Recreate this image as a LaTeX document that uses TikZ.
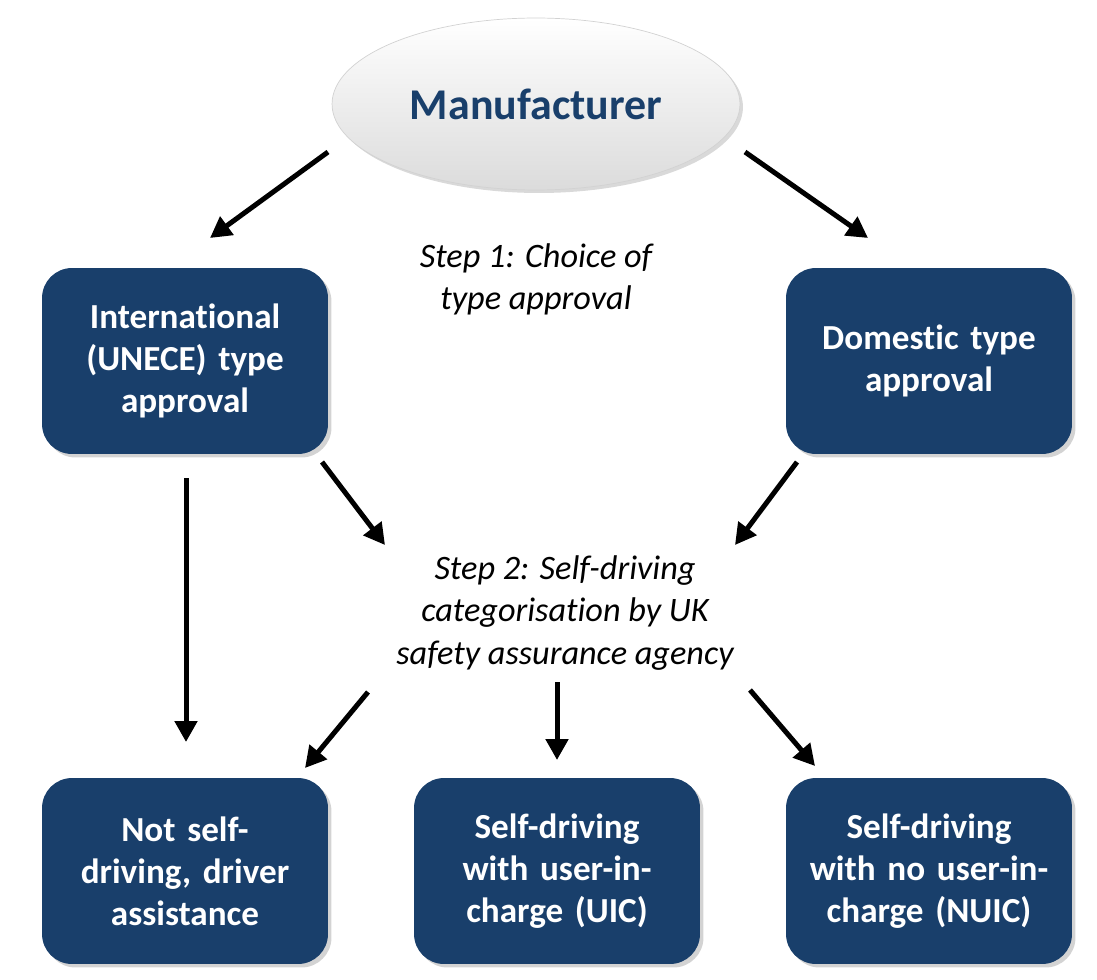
\documentclass[tikz,border=0pt]{standalone}
\usepackage{fontspec}
\setmainfont{Carlito}[Ligatures=NoCommon]
\usetikzlibrary{arrows.meta,shapes.geometric,shadows}

\definecolor{navy}{RGB}{25,63,107}

\tikzset{
  box/.style={fill=navy, rounded corners=0.6cm, minimum width=5.72cm,
    minimum height=3.72cm, text width=5.3cm, align=center, text=white,
    font=\bfseries\fontsize{20}{24}\selectfont,
    drop shadow={shadow xshift=0.07cm, shadow yshift=-0.07cm, opacity=0.35}},
  oval/.style={ellipse, minimum width=8.16cm, minimum height=3.44cm,
    top color=white, bottom color=gray!28, draw=gray!35, thin,
    text=navy, font=\bfseries\fontsize{25}{28}\selectfont,
    drop shadow={shadow xshift=0.06cm, shadow yshift=-0.06cm, opacity=0.3}},
  steptext/.style={align=center, font=\itshape\fontsize{19.5}{24}\selectfont},
  arr/.style={line width=0.1cm, -{Triangle[length=0.42cm, width=0.44cm]}}
}

\begin{document}
\begin{tikzpicture}[x=0.02cm, y=-0.02cm]
  \useasboundingbox (0,0) rectangle (1097,979);

  % nodes
  \node[oval] (manuf) at (536,104) {Manufacturer};
  \node[box] (intl) at (185,361) {International\\(UNECE) type\\approval};
  \node[box] (dom) at (929,361) {Domestic type\\approval};
  \node[box] (notsd) at (185,871) {Not self-\\driving, driver\\assistance};
  \node[box] (uic) at (557,871) {Self-driving\\with user-in-\\charge (UIC)};
  \node[box] (nuic) at (929,871) {Self-driving\\with no user-in-\\charge (NUIC)};

  \node[steptext] (step1) at (536,279) {Step 1: Choice of\\type approval};
  \node[steptext] (step2) at (565,613) {Step 2: Self-driving\\categorisation by UK\\safety assurance agency};

  % arrow ends
  \coordinate (m1) at (328,152);  \coordinate (i1) at (210,238);
  \coordinate (m2) at (745,152);  \coordinate (d1) at (868,238);
  \coordinate (i2) at (186,478);  \coordinate (n1) at (186,742);
  \coordinate (i3) at (322,462);  \coordinate (s1) at (385,545);
  \coordinate (d2) at (797,462);  \coordinate (s2) at (735,545);
  \coordinate (s3) at (368,692);  \coordinate (n2) at (305,768);
  \coordinate (s4) at (557,682);  \coordinate (u1) at (557,760);
  \coordinate (s5) at (750,690);  \coordinate (u2) at (815,766);

  % arrows
  \draw[arr] (m1) -- (i1);
  \draw[arr] (m2) -- (d1);
  \draw[arr] (i2) -- (n1);
  \draw[arr] (i3) -- (s1);
  \draw[arr] (d2) -- (s2);
  \draw[arr] (s3) -- (n2);
  \draw[arr] (s4) -- (u1);
  \draw[arr] (s5) -- (u2);
\end{tikzpicture}
\end{document}
